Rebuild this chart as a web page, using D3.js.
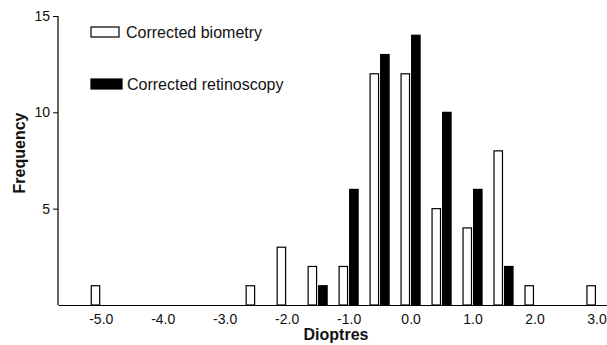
<!DOCTYPE html>
<html>
<head>
<meta charset="utf-8">
<script src="https://cdn.jsdelivr.net/npm/d3@7"></script>
<style>
  body { margin: 0; background: #fff; }
  text { font-family: "Liberation Sans", Arial, sans-serif; fill: #111; }
</style>
</head>
<body>
<div id="chart"></div>
<script>
// dioptre bins (half-dioptre steps) and counts per series
var bins = [-5.0, -2.5, -2.0, -1.5, -1.0, -0.5, 0.0, 0.5, 1.0, 1.5, 2.0, 3.0];
var biometry    = [1, 1, 3, 2, 2, 12, 12, 5, 4, 8, 1, 1];
var retinoscopy = [0, 0, 0, 1, 6, 13, 14, 10, 6, 2, 0, 0];
var seriesNames = ["Corrected biometry", "Corrected retinoscopy"];
var xTicks = [-5, -4, -3, -2, -1, 0, 1, 2, 3];
var yTicks = [5, 10, 15];

var width = 607, height = 345;

var svg = d3.select("#chart")
  .append("svg")
  .attr("width", width)
  .attr("height", height);

var x = d3.scaleLinear().domain([-5.69, 3.17]).range([58, 607]);
var y = d3.scaleLinear().domain([0, 15]).range([305, 16]);

// side by side offset of the two bars around each bin (pixels)
var sub = d3.scaleBand().domain(seriesNames).range([-9.5, 9.5]).paddingInner(0.2);

var data = bins.map(function(b, i) {
  return { bin: b, values: [biometry[i], retinoscopy[i]] };
});

// bars
var group = svg.selectAll(".bin")
  .data(data)
  .enter().append("g")
  .attr("class", "bin")
  .attr("transform", function(d) { return "translate(" + x(d.bin) + ",0)"; });

group.selectAll("rect")
  .data(function(d) {
    return d.values.map(function(v, k) { return { name: seriesNames[k], value: v }; });
  })
  .enter().append("rect")
  .filter(function(d) { return d.value > 0; })
  .attr("x", function(d) { return sub(d.name); })
  .attr("y", function(d) { return y(d.value); })
  .attr("width", sub.bandwidth())
  .attr("height", function(d) { return y(0) - y(d.value); })
  .style("fill", function(d) { return d.name === seriesNames[0] ? "#fff" : "#000"; })
  .style("stroke", "#000")
  .style("stroke-width", 1.2);

// y axis
var yAxis = svg.append("g")
  .attr("transform", "translate(58,0)")
  .call(d3.axisLeft(y).tickValues(yTicks).tickSize(5).tickPadding(3).tickSizeOuter(0));
yAxis.select(".domain").attr("d", "M0," + y(15) + "V" + y(0)).style("stroke-width", 1.2);
yAxis.selectAll("text").style("font-size", "14px").style("fill", "#111");

// x axis (labels only, no tick marks)
var xAxis = svg.append("g")
  .attr("transform", "translate(0," + y(0) + ")")
  .call(d3.axisBottom(x).tickValues(xTicks).tickSize(0).tickPadding(9)
    .tickFormat(d3.format(".1f")));
xAxis.select(".domain").style("stroke-width", 1.2);
xAxis.selectAll("text").style("font-size", "14px").style("fill", "#111")
  .text(function(d) { return d3.format(".1f")(d).replace("\u2212", "-"); });

// axis titles
svg.append("text")
  .attr("x", 336)
  .attr("y", 340)
  .attr("text-anchor", "middle")
  .style("font-size", "16px")
  .style("font-weight", "bold")
  .text("Dioptres");

svg.append("text")
  .attr("transform", "translate(25,153) rotate(-90)")
  .attr("text-anchor", "middle")
  .style("font-size", "16px")
  .style("font-weight", "bold")
  .text("Frequency");

// legend
var legend = svg.selectAll(".legend")
  .data(seriesNames)
  .enter().append("g")
  .attr("class", "legend")
  .attr("transform", function(d, i) { return "translate(91," + (27 + i * 52) + ")"; });

legend.append("rect")
  .attr("width", function(d, i) { return i === 0 ? 28 : 31; })
  .attr("height", 10)
  .style("fill", function(d, i) { return i === 0 ? "#fff" : "#000"; })
  .style("stroke", "#000")
  .style("stroke-width", 1.2);

legend.append("text")
  .attr("x", function(d, i) { return i === 0 ? 35 : 36; })
  .attr("y", 11)
  .style("font-size", "16px")
  .text(function(d) { return d; });
</script>
</body>
</html>
